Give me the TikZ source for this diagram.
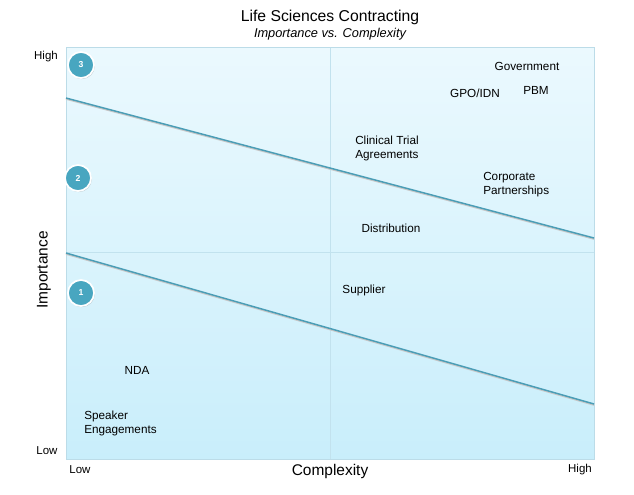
\documentclass[tikz,border=0pt]{standalone}
\usepackage{fontspec}
\setmainfont{Liberation Sans}
\usepackage{tikz}
\usetikzlibrary{shadows}

\definecolor{plottop}{HTML}{EBF9FE}
\definecolor{plotbot}{HTML}{C9EEFB}
\definecolor{plotedge}{HTML}{BCDCE8}
\definecolor{midline}{HTML}{C2E2EE}
\definecolor{tierline}{HTML}{4A9DB6}
\definecolor{badgefill}{HTML}{48A6C0}

\tikzset{
  lbl/.style={font=\fontsize{8.8}{10.5}\selectfont, inner sep=0pt, align=left},
  tick/.style={font=\fontsize{8.6}{10}\selectfont, inner sep=0pt},
  badge/.style={circle, fill=badgefill, draw=white, line width=1.3pt, minimum size=19.5pt,
    inner sep=0pt, text=white, font=\bfseries\fontsize{6.5}{7}\selectfont,
    drop shadow={shadow xshift=0.6pt, shadow yshift=-0.8pt, opacity=0.35}},
}

\begin{document}
\begin{tikzpicture}[x=0.75pt, y=-0.75pt]
  \useasboundingbox (0,0) rectangle (634,494);

  % plot area
  \shade[top color=plottop, bottom color=plotbot] (66,47) rectangle (594,459);
  \draw[midline, line width=0.6pt] (330,47) -- (330,459);
  \draw[midline, line width=0.6pt] (66,252) -- (594,252);
  \draw[black!15, line width=0.8pt] (66.5,459.8) -- (594.8,459.8) -- (594.8,47.5);
  \draw[plotedge, line width=0.7pt] (66,47) rectangle (594,459);

  % tier boundaries
  \coordinate (upperL) at (66,98);
  \coordinate (upperR) at (594,238);
  \coordinate (lowerL) at (66,253);
  \coordinate (lowerR) at (594,404);
  \draw[black!22, line width=1.1pt] ([yshift=-0.8pt]upperL) -- ([yshift=-0.8pt]upperR);
  \draw[tierline, line width=1.1pt] (upperL) -- (upperR);
  \draw[black!22, line width=1.1pt] ([yshift=-0.8pt]lowerL) -- ([yshift=-0.8pt]lowerR);
  \draw[tierline, line width=1.1pt] (lowerL) -- (lowerR);

  % badges
  \node[badge] (tier3) at (81,65) {3};
  \node[badge] (tier2) at (78,178) {2};
  \node[badge] (tier1) at (81,293) {1};

  % titles
  \node[font=\fontsize{11.8}{13}\selectfont, inner sep=0pt] (title) at (330,17) {Life Sciences Contracting};
  \node[font=\itshape\fontsize{9.6}{11}\selectfont, inner sep=0pt] (subtitle) at (330,34) {Importance vs. Complexity};

  % axes
  \node[tick] (yhigh) at (46,57) {High};
  \node[tick] (ylow) at (47,451) {Low};
  \node[tick] (xlow) at (80,470) {Low};
  \node[tick] (xhigh) at (580,470) {High};
  \node[font=\fontsize{11.6}{13}\selectfont, inner sep=0pt] (xtitle) at (330,471) {Complexity};
  \node[font=\fontsize{11.6}{13}\selectfont, inner sep=0pt, rotate=90] (ytitle) at (44,270) {Importance};

  % contract types
  \node[lbl] (gov) at (527,66) {Government};
  \node[lbl] (gpo) at (475,93) {GPO/IDN};
  \node[lbl] (pbm) at (536,90) {PBM};
  \node[lbl, anchor=west] (clinical) at (355,148) {Clinical Trial\\Agreements};
  \node[lbl, anchor=west] (corporate) at (483,185) {Corporate\\Partnerships};
  \node[lbl] (distrib) at (391,228) {Distribution};
  \node[lbl] (supplier) at (364,290) {Supplier};
  \node[lbl] (nda) at (137,370) {NDA};
  \node[lbl, anchor=west] (speaker) at (84,423) {Speaker\\Engagements};
\end{tikzpicture}
\end{document}
